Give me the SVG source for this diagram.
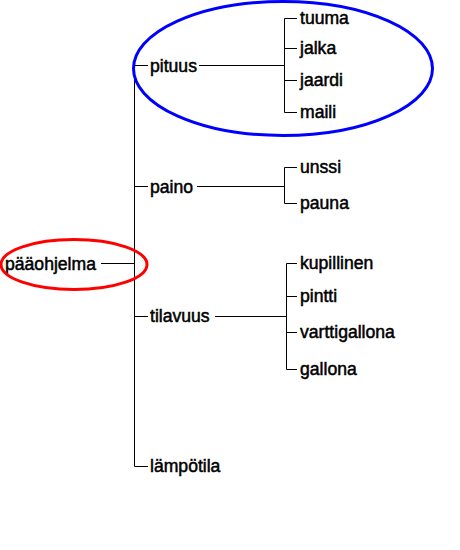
<svg xmlns="http://www.w3.org/2000/svg" width="460" height="550" viewBox="0 0 460 550">
<style>
text{font-family:"Liberation Sans",Arial,sans-serif;font-size:17.6px;fill:#000;stroke:#000;stroke-width:0.5}
.c{stroke:#000;stroke-width:1;fill:none}
</style>
<rect width="460" height="550" fill="#fff"/>
<g id="connectors">
<path class="c" d="M134.5 65.5V466.5M134.5 65.5H148M134.5 186.5H148M134.5 316.5H148M134.5 466.5H148M101 263.5H134.5"/>
<path class="c" d="M199 65.5H284.5M284.5 18.5V112.5M284.5 18.5H297M284.5 48.5H297M284.5 80.5H297M284.5 112.5H297"/>
<path class="c" d="M197 186.5H284.5M284.5 167.5V203.5M284.5 167.5H297M284.5 203.5H297"/>
<path class="c" d="M215 316.5H286.5M286.5 263.5V369.5M286.5 263.5H297M286.5 296.5H297M286.5 332.5H297M286.5 369.5H297"/>
</g>
<g id="root"><text x="5" y="269.5">pääohjelma</text></g>
<g id="pituus"><text x="150" y="71.5">pituus</text></g>
<g id="paino"><text x="150" y="192.5">paino</text></g>
<g id="tilavuus"><text x="150" y="322">tilavuus</text></g>
<g id="lampotila"><text x="150" y="471.5">lämpötila</text></g>
<g id="tuuma"><text x="300" y="23.5">tuuma</text></g>
<g id="jalka"><text x="300" y="53.5">jalka</text></g>
<g id="jaardi"><text x="300" y="85.5">jaardi</text></g>
<g id="maili"><text x="300" y="117.5">maili</text></g>
<g id="unssi"><text x="300" y="172.5">unssi</text></g>
<g id="pauna"><text x="300" y="208.5">pauna</text></g>
<g id="kupillinen"><text x="300" y="268.5">kupillinen</text></g>
<g id="pintti"><text x="300" y="301.5">pintti</text></g>
<g id="varttigallona"><text x="300" y="337.5">varttigallona</text></g>
<g id="gallona"><text x="300" y="374.5">gallona</text></g>
<g id="highlights">
<ellipse cx="283" cy="68.5" rx="149.5" ry="67" fill="none" stroke="#0000ff" stroke-width="3"/>
<ellipse cx="74" cy="264.5" rx="73" ry="25" fill="none" stroke="#ff0000" stroke-width="3"/>
</g>
</svg>
